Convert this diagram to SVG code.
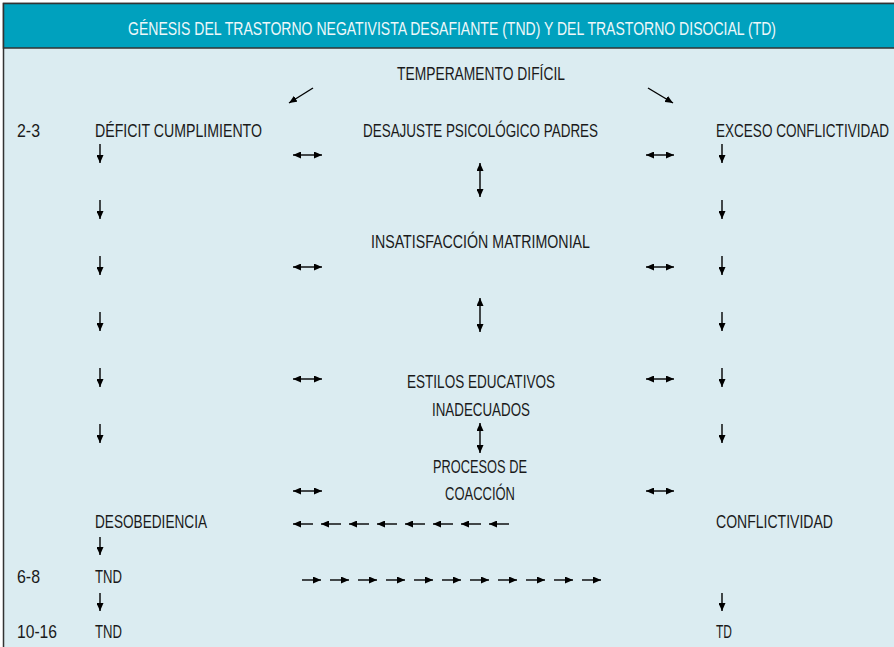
<svg xmlns="http://www.w3.org/2000/svg" width="894" height="647" viewBox="0 0 894 647">
<defs>
<style>
.t{font-family:"Liberation Sans",Arial,sans-serif;font-size:18px;fill:#1a1a1a}
.h{font-family:"Liberation Sans",Arial,sans-serif;font-size:18px;fill:#eef8fa}
.a{stroke:#000;stroke-width:1.4;fill:none}
.e{marker-end:url(#ah)}
.d{marker-start:url(#ah);marker-end:url(#ah)}
</style>
<marker id="ah" viewBox="0 0 8 7" refX="8" refY="3.5" markerWidth="8" markerHeight="7" markerUnits="userSpaceOnUse" orient="auto-start-reverse">
<path d="M0,0 L8,3.5 L0,7 z" fill="#000"/>
</marker>
</defs>
<rect x="0" y="0" width="894" height="647" fill="#ffffff"/>
<rect x="3.5" y="3.5" width="900" height="660" fill="#dbecf1" stroke="#333" stroke-width="1.5"/>
<rect x="3.5" y="3.5" width="900" height="44.5" fill="#00a1be" stroke="#333" stroke-width="1.5"/>
<g id="title"><text class="h" transform="translate(128,35) scale(0.74,1)" textLength="875.7" lengthAdjust="spacingAndGlyphs">GÉNESIS DEL TRASTORNO NEGATIVISTA DESAFIANTE (TND) Y DEL TRASTORNO DISOCIAL (TD)</text></g>

<g id="ages">
<text class="t" transform="translate(17,137) scale(0.74,1)" textLength="31.1" lengthAdjust="spacingAndGlyphs">2-3</text>
<text class="t" transform="translate(17,583) scale(0.74,1)" textLength="31.1" lengthAdjust="spacingAndGlyphs">6-8</text>
<text class="t" transform="translate(17,638) scale(0.74,1)" textLength="54.1" lengthAdjust="spacingAndGlyphs">10-16</text>
</g>
<g id="temperamento"><text class="t" transform="translate(397,80) scale(0.74,1)" textLength="227" lengthAdjust="spacingAndGlyphs">TEMPERAMENTO DIFÍCIL</text></g>
<g id="deficit"><text class="t" transform="translate(95,137) scale(0.74,1)" textLength="225.7" lengthAdjust="spacingAndGlyphs">DÉFICIT CUMPLIMIENTO</text></g>
<g id="desajuste"><text class="t" transform="translate(363,137) scale(0.74,1)" textLength="317.6" lengthAdjust="spacingAndGlyphs">DESAJUSTE PSICOLÓGICO PADRES</text></g>
<g id="exceso"><text class="t" transform="translate(716,137) scale(0.74,1)" textLength="233.8" lengthAdjust="spacingAndGlyphs">EXCESO CONFLICTIVIDAD</text></g>
<g id="insatisfaccion"><text class="t" transform="translate(371,248) scale(0.74,1)" textLength="295.9" lengthAdjust="spacingAndGlyphs">INSATISFACCIÓN MATRIMONIAL</text></g>
<g id="estilos">
<text class="t" transform="translate(407,388) scale(0.74,1)" textLength="200" lengthAdjust="spacingAndGlyphs">ESTILOS EDUCATIVOS</text>
<text class="t" transform="translate(432,416) scale(0.74,1)" textLength="132.4" lengthAdjust="spacingAndGlyphs">INADECUADOS</text>
</g>
<g id="procesos">
<text class="t" transform="translate(433,473) scale(0.74,1)" textLength="127" lengthAdjust="spacingAndGlyphs">PROCESOS DE</text>
<text class="t" transform="translate(445,500) scale(0.74,1)" textLength="94.6" lengthAdjust="spacingAndGlyphs">COACCIÓN</text>
</g>
<g id="desobediencia"><text class="t" transform="translate(95,528) scale(0.74,1)" textLength="151.4" lengthAdjust="spacingAndGlyphs">DESOBEDIENCIA</text></g>
<g id="conflictividad"><text class="t" transform="translate(716,528) scale(0.74,1)" textLength="158.1" lengthAdjust="spacingAndGlyphs">CONFLICTIVIDAD</text></g>
<g id="tnd1"><text class="t" transform="translate(95,583) scale(0.74,1)" textLength="36.5" lengthAdjust="spacingAndGlyphs">TND</text></g>
<g id="tnd2"><text class="t" transform="translate(95,638) scale(0.74,1)" textLength="36.5" lengthAdjust="spacingAndGlyphs">TND</text></g>
<g id="td"><text class="t" transform="translate(716,638) scale(0.74,1)" textLength="21.6" lengthAdjust="spacingAndGlyphs">TD</text></g>

<g id="connectors" class="a">
<line class="e" x1="313" y1="88" x2="289" y2="103"/>
<line class="e" x1="648" y1="88" x2="673" y2="103"/>
<line class="e" x1="100" y1="144" x2="100" y2="163"/>
<line class="e" x1="100" y1="200" x2="100" y2="219"/>
<line class="e" x1="100" y1="256" x2="100" y2="275"/>
<line class="e" x1="100" y1="312" x2="100" y2="331"/>
<line class="e" x1="100" y1="368" x2="100" y2="387"/>
<line class="e" x1="100" y1="424" x2="100" y2="443"/>
<line class="e" x1="100" y1="537" x2="100" y2="555"/>
<line class="e" x1="100" y1="593" x2="100" y2="611"/>
<line class="e" x1="722" y1="144" x2="722" y2="163"/>
<line class="e" x1="722" y1="200" x2="722" y2="219"/>
<line class="e" x1="722" y1="256" x2="722" y2="275"/>
<line class="e" x1="722" y1="312" x2="722" y2="331"/>
<line class="e" x1="722" y1="368" x2="722" y2="387"/>
<line class="e" x1="722" y1="424" x2="722" y2="443"/>
<line class="e" x1="722" y1="593" x2="722" y2="611"/>
<line class="d" x1="293" y1="155" x2="322" y2="155"/>
<line class="d" x1="293" y1="267" x2="322" y2="267"/>
<line class="d" x1="293" y1="379" x2="322" y2="379"/>
<line class="d" x1="293" y1="491" x2="322" y2="491"/>
<line class="d" x1="646" y1="155" x2="674" y2="155"/>
<line class="d" x1="646" y1="267" x2="674" y2="267"/>
<line class="d" x1="646" y1="379" x2="674" y2="379"/>
<line class="d" x1="646" y1="491" x2="674" y2="491"/>
<line class="d" x1="480" y1="163" x2="480" y2="197"/>
<line class="d" x1="480" y1="298" x2="480" y2="332"/>
<line class="d" x1="480" y1="423" x2="480" y2="453"/>
<line class="e" x1="313" y1="524" x2="293" y2="524"/>
<line class="e" x1="341" y1="524" x2="321" y2="524"/>
<line class="e" x1="369" y1="524" x2="349" y2="524"/>
<line class="e" x1="397" y1="524" x2="377" y2="524"/>
<line class="e" x1="425" y1="524" x2="405" y2="524"/>
<line class="e" x1="453" y1="524" x2="433" y2="524"/>
<line class="e" x1="481" y1="524" x2="461" y2="524"/>
<line class="e" x1="509" y1="524" x2="489" y2="524"/>
<line class="e" x1="302" y1="580" x2="321" y2="580"/>
<line class="e" x1="330" y1="580" x2="349" y2="580"/>
<line class="e" x1="358" y1="580" x2="377" y2="580"/>
<line class="e" x1="386" y1="580" x2="405" y2="580"/>
<line class="e" x1="414" y1="580" x2="433" y2="580"/>
<line class="e" x1="442" y1="580" x2="461" y2="580"/>
<line class="e" x1="470" y1="580" x2="489" y2="580"/>
<line class="e" x1="498" y1="580" x2="517" y2="580"/>
<line class="e" x1="526" y1="580" x2="545" y2="580"/>
<line class="e" x1="554" y1="580" x2="573" y2="580"/>
<line class="e" x1="582" y1="580" x2="601" y2="580"/>
</g>
</svg>
